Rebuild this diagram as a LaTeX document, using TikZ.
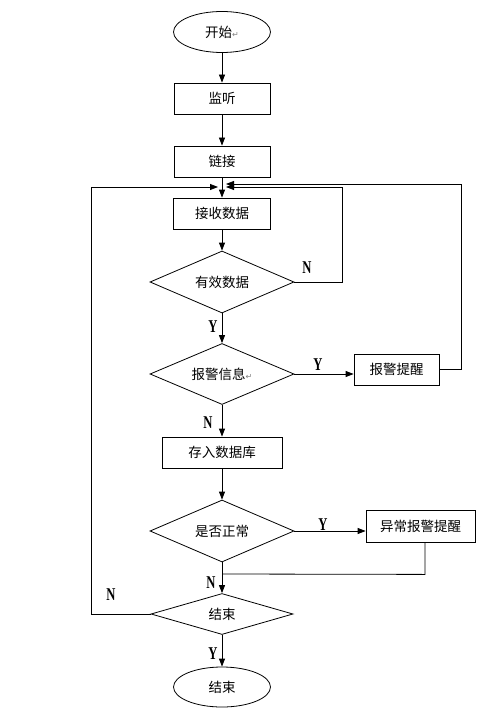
\documentclass[tikz,border=0pt]{standalone}
\usepackage{fontspec}
\setmainfont{Liberation Serif}
\newfontfamily\cjk{Noto Sans CJK SC}
\newfontfamily\symf{DejaVu Sans}
\usetikzlibrary{shapes.geometric,arrows.meta}
\begin{document}
\begin{tikzpicture}[x=1pt,y=-1pt,
  line width=0.8pt,
  every node/.style={font=\cjk\fontsize{13.5}{15}\selectfont, inner sep=0pt},
  proc/.style={draw, rectangle, minimum height=31pt},
  term/.style={draw, ellipse, minimum width=97pt, minimum height=41pt},
  dec/.style={draw, diamond, aspect=2.3, minimum width=144pt, minimum height=62pt},
  lab/.style={font=\bfseries\fontsize{18}{18}\selectfont, xscale=0.7},
  arr/.style={-{Triangle[length=8pt,width=6pt]}}
]
\path[use as bounding box] (0,0) rectangle (503,714);

\node[term] (start) at (222,32) {开始\textcolor{gray}{\symf\fontsize{8}{8}\selectfont ↵}};
\node[proc, minimum width=96pt] (listen) at (222,98.5) {监听};
\node[proc, minimum width=96pt] (link) at (222,161.5) {链接};
\node[proc, minimum width=97pt] (recv) at (222,213.5) {接收数据};
\node[dec] (valid) at (222,282) {有效数据};
\node[dec, minimum height=61pt] (alarm) at (222,374) {报警信息\textcolor{gray}{\symf\fontsize{8}{8}\selectfont ↵}};
\node[proc, minimum width=85pt] (remind) at (396.5,369.5) {报警提醒};
\node[proc, minimum width=120pt] (store) at (222,452.5) {存入数据库};
\node[dec] (normal) at (222,531) {是否正常};
\node[proc, minimum width=109pt, minimum height=32pt] (abn) at (420.5,526) {异常报警提醒};
\node[dec, minimum width=142pt, minimum height=41pt] (endq) at (222,614) {结束};
\node[term, minimum height=40pt] (stop) at (222,687) {结束};

\coordinate (jl) at (218,187);
\coordinate (jr) at (226,187);
\coordinate (jr2) at (226,184);
\coordinate (merge) at (222,574);

\draw[arr] (start) -- (listen);
\draw[arr] (listen) -- (link);
\draw[arr] (link) -- (recv);
\draw[arr] (recv) -- (valid);
\draw[arr] (valid) -- (alarm);
\draw[arr] (alarm.east) -- (alarm.east -| remind.west);
\draw[arr] (alarm) -- (store);
\draw[arr] (store) -- (normal);
\draw[arr] (normal.east) -- (normal.east -| abn.west);
\draw[arr] (normal) -- (endq);
\draw[arr] (endq) -- (stop);

% loops
\draw[arr] (valid.east) -- (342,282) -- (342,187) -- (jr);
\draw[arr] (remind.east) -- (461,369.5) -- (461,184) -- (jr2);
\draw[arr] (endq.west) -- (91,614) -- (91,187) -- (jl);
\draw (abn.south) ++(4.5,0) -- ++(0,32) -- (merge);

% labels
\node[lab] (n1) at (307,268) {N};
\node[lab] (y1) at (213,327) {Y};
\node[lab] (y2) at (318,365) {Y};
\node[lab] (n2) at (208,423) {N};
\node[lab] (y3) at (323,525) {Y};
\node[lab] (n3) at (211,583) {N};
\node[lab] (n4) at (111,595) {N};
\node[lab] (y4) at (213,654) {Y};
\end{tikzpicture}
\end{document}
